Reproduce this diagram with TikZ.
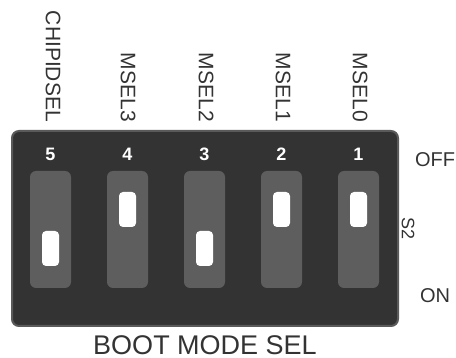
\documentclass[tikz,border=0pt]{standalone}
\usepackage{fontspec}
\setmainfont{Liberation Sans}
\usepackage{tikz}
\usetikzlibrary{positioning,calc}
\definecolor{boxgray}{HTML}{333333}
\definecolor{slotgray}{HTML}{5E5E5E}
\definecolor{rimgray}{HTML}{5A5A5A}
\definecolor{textgray}{HTML}{333333}
\tikzset{
	slot/.style={rectangle, rounded corners=6pt, fill=slotgray, minimum width=41pt, minimum height=117pt, inner sep=0pt},
	knob/.style={rectangle, rounded corners=4pt, fill=white, minimum width=17pt, minimum height=35pt, inner sep=0pt},
	number/.style={text=white, font=\fontsize{18}{20}\selectfont\bfseries, inner sep=0pt},
	pinlabel/.style={text=textgray, font=\fontsize{21}{24}\selectfont, rotate=-90, anchor=east, inner sep=0pt},
	sidelabel/.style={text=textgray, font=\fontsize{20}{22}\selectfont, inner sep=0pt}
}

\begin{document}
\begin{tikzpicture}[x=1pt,y=-1pt]
			\useasboundingbox (0,0) rectangle (456,358);
			% switch body
			\node[draw=rimgray, line width=2pt, fill=boxgray, rounded corners=7pt, minimum width=386pt, minimum height=195pt, inner sep=0pt] (body) at (205,228.5) {};
			
			% slots
			\node[slot] (slot5) at (50.5,229.5) {};
			\node[slot] (slot4) at (127.5,229.5) {};
			\node[slot] (slot3) at (204.5,229.5) {};
			\node[slot] (slot2) at (281.5,229.5) {};
			\node[slot] (slot1) at (358.5,229.5) {};
			
			% knobs (low = ON, high = OFF)
			\node[knob] (knob5) at (50.5,248.5) {};
			\node[knob] (knob4) at (127.5,209.5) {};
			\node[knob] (knob3) at (204.5,248.5) {};
			\node[knob] (knob2) at (281.5,209.5) {};
			\node[knob] (knob1) at (358.5,209.5) {};
			
			% numbers
			\node[number] (num5) at (50.5,154) {5};
			\node[number] (num4) at (127.5,154) {4};
			\node[number] (num3) at (204.5,154) {3};
			\node[number] (num2) at (281.5,154) {2};
			\node[number] (num1) at (358.5,154) {1};
			
			% pin names
			\node[pinlabel] (chipidsel) at (53,122) {CHIPIDSEL};
			\node[pinlabel] (msel3) at (128,122) {MSEL3};
			\node[pinlabel] (msel2) at (206,122) {MSEL2};
			\node[pinlabel] (msel1) at (283,122) {MSEL1};
			\node[pinlabel] (msel0) at (360,122) {MSEL0};
			
			% side and bottom labels
			\node[sidelabel] (off) at (435,160) {OFF};
			\node[sidelabel] (on) at (435,296) {ON};
			\node[sidelabel, font=\fontsize{18}{20}\selectfont, rotate=-90] (s2) at (408,229) {S2};
			\node[text=textgray, font=\fontsize{27}{30}\selectfont, inner sep=0pt] (title) at (205,345) {BOOT MODE SEL};
		\end{tikzpicture}
\end{document}
